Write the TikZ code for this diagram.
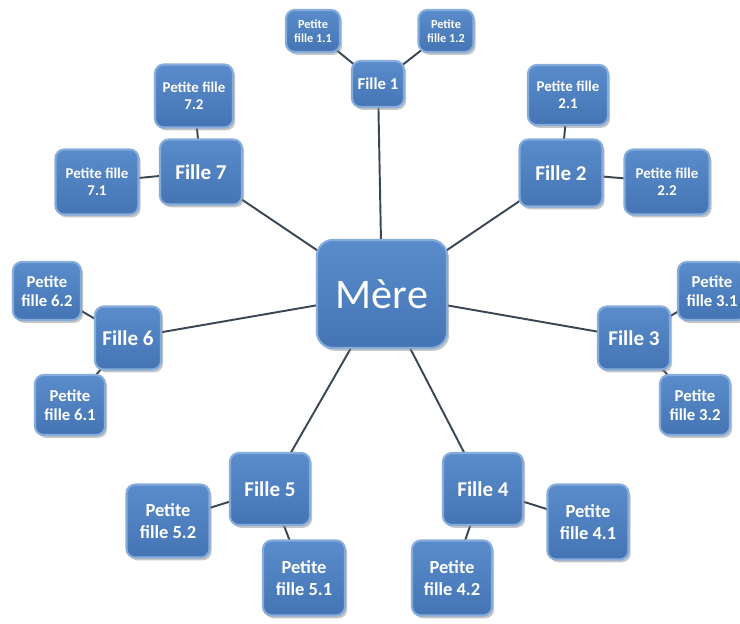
\documentclass[tikz,border=0pt]{standalone}
\usepackage{fontspec}
\setmainfont{Carlito}
\usetikzlibrary{positioning,shadows,backgrounds}

\definecolor{boxblue}{HTML}{4F81BD}
\definecolor{boxtop}{HTML}{5A8CCB}
\definecolor{boxbottom}{HTML}{4474B3}
\definecolor{boxedge}{HTML}{86ACDB}
\definecolor{linkgray}{HTML}{3B4654}

\tikzset{
  box/.style 2 args={rectangle, rounded corners=5pt, top color=boxtop, bottom color=boxbottom,
    draw=boxedge, line width=1.2pt, text=white, align=center, inner sep=1pt,
    minimum width=#1*0.02cm, minimum height=#2*0.02cm,
    drop shadow={shadow xshift=1.2pt, shadow yshift=-1.6pt, opacity=0.45}},
  mere/.style={font=\fontsize{24}{26}\selectfont},
  fille/.style={font=\bfseries\fontsize{12}{14}\selectfont},
  petite/.style={font=\bfseries\fontsize{9.5}{11}\selectfont},
  link/.style={draw=linkgray, line width=1.1pt}
}

\begin{document}
\begin{tikzpicture}[x=0.02cm, y=-0.02cm]
  \useasboundingbox (0,0) rectangle (740,624);

  \node (mere) [box={130}{108}, mere, rounded corners=9pt] at (382,294) {Mère};

  % filles
  \node (f1) [box={52}{46}, fille, font=\bfseries\fontsize{9.5}{11}\selectfont] at (378,84) {Fille 1};
  \node (f2) [box={83}{67}, fille] at (561,173) {Fille 2};
  \node (f3) [box={72}{63}, fille] at (634,338) {Fille 3};
  \node (f4) [box={80}{72}, fille] at (483,489) {Fille 4};
  \node (f5) [box={80}{72}, fille] at (270,489) {Fille 5};
  \node (f6) [box={66}{63}, fille] at (128,338) {Fille 6};
  \node (f7) [box={82}{65}, fille] at (201,172) {Fille 7};

  % petites filles
  \node (pf11) [box={54}{42}, petite, font=\bfseries\fontsize{7}{8}\selectfont] at (313,31) {Petite\\fille 1.1};
  \node (pf12) [box={55}{42}, petite, font=\bfseries\fontsize{7}{8}\selectfont] at (446,31) {Petite\\fille 1.2};
  \node (pf21) [box={80}{60}, petite, font=\bfseries\fontsize{8.5}{10}\selectfont] at (568,95) {Petite fille\\2.1};
  \node (pf22) [box={85}{65}, petite, font=\bfseries\fontsize{8.5}{10}\selectfont] at (667,182) {Petite fille\\2.2};
  \node (pf31) [box={68}{58}, petite] at (712,291) {Petite\\fille 3.1};
  \node (pf32) [box={70}{60}, petite] at (695,405) {Petite\\fille 3.2};
  \node (pf41) [box={81}{75}, petite, font=\bfseries\fontsize{10.5}{12.5}\selectfont] at (588,522) {Petite\\fille 4.1};
  \node (pf42) [box={80}{75}, petite, font=\bfseries\fontsize{10.5}{12.5}\selectfont] at (452,578) {Petite\\fille 4.2};
  \node (pf51) [box={82}{75}, petite, font=\bfseries\fontsize{10.5}{12.5}\selectfont] at (304,578) {Petite\\fille 5.1};
  \node (pf52) [box={83}{73}, petite, font=\bfseries\fontsize{10.5}{12.5}\selectfont] at (168,521) {Petite\\fille 5.2};
  \node (pf61) [box={70}{60}, petite] at (70,405) {Petite\\fille 6.1};
  \node (pf62) [box={68}{58}, petite] at (47,291) {Petite\\fille 6.2};
  \node (pf71) [box={83}{65}, petite, font=\bfseries\fontsize{8.5}{10}\selectfont] at (97,182) {Petite fille\\7.1};
  \node (pf72) [box={78}{63}, petite, font=\bfseries\fontsize{8.5}{10}\selectfont] at (194,96) {Petite fille\\7.2};

  \begin{scope}[on background layer]
    \foreach \f in {f1,f2,f3,f4,f5,f6,f7}
      \draw[link] (mere.center) -- (\f.center);
    \foreach \f/\p in {f1/pf11, f1/pf12, f2/pf21, f2/pf22, f3/pf31, f3/pf32, f4/pf41, f4/pf42,
                       f5/pf51, f5/pf52, f6/pf61, f6/pf62, f7/pf71, f7/pf72}
      \draw[link] (\f.center) -- (\p.center);
  \end{scope}
\end{tikzpicture}
\end{document}
